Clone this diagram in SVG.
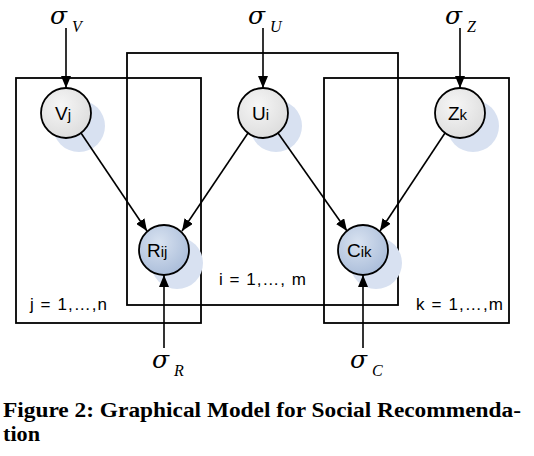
<svg xmlns="http://www.w3.org/2000/svg" width="534" height="456" viewBox="0 0 534 456">
<defs>
  <marker id="ah" viewBox="0 0 12 10" refX="12" refY="5" markerWidth="12" markerHeight="10" markerUnits="userSpaceOnUse" orient="auto">
    <path d="M0,0 L12,5 L0,10 Z" fill="#000"/>
  </marker>
  <radialGradient id="gGray" cx="0.4" cy="0.35" r="0.7">
    <stop offset="0" stop-color="#f6f6f6"/>
    <stop offset="1" stop-color="#dcdcdc"/>
  </radialGradient>
  <radialGradient id="gBlue" cx="0.4" cy="0.35" r="0.7">
    <stop offset="0" stop-color="#d8e2f0"/>
    <stop offset="1" stop-color="#a9bcd9"/>
  </radialGradient>
</defs>
<style>
  .box { fill: none; stroke: #000; stroke-width: 1.8; }
  .shadow { fill: #d8e1f1; stroke: none; }
  .node { stroke: #000; stroke-width: 1.8; }
  .gray { fill: url(#gGray); }
  .blue { fill: url(#gBlue); }
  .edge { stroke: #000; stroke-width: 1.6; fill: none; marker-end: url(#ah); }
  .nl { font-family: "Liberation Sans", Arial, sans-serif; font-size: 19px; fill: #000; }
  .sub { font-size: 15px; }
  .lab { font-family: "Liberation Sans", Arial, sans-serif; font-size: 17px; fill: #000; }
  .sig { font-family: "DejaVu Serif", "Liberation Serif", serif; font-style: italic; font-size: 25px; fill: #000; }
  .ss { font-family: "Liberation Serif", "Times New Roman", serif; font-style: italic; font-size: 16px; fill: #000; }
  .cap { font-family: "Liberation Serif", "Times New Roman", serif; font-weight: bold; font-size: 20px; fill: #000; }
</style>

<g id="plates">
  <rect id="plate-j" class="box" x="16" y="78" width="185" height="245"/>
  <rect id="plate-i" class="box" x="127" y="53" width="271" height="252"/>
  <rect id="plate-k" class="box" x="324" y="78" width="185" height="245"/>
  <text class="lab" x="30" y="310" textLength="77" lengthAdjust="spacing">j = 1,…,n</text>
  <text class="lab" x="219" y="285" textLength="87" lengthAdjust="spacing">i = 1,…, m</text>
  <text class="lab" x="416" y="310" textLength="87" lengthAdjust="spacing">k = 1,…,m</text>
</g>

<g id="node-Vj">
  <circle class="shadow" cx="79" cy="126" r="26"/>
  <circle class="node gray" cx="66" cy="113" r="25"/>
  <text class="nl" x="55" y="120">V<tspan class="sub">j</tspan></text>
</g>
<g id="node-Ui">
  <circle class="shadow" cx="276" cy="126" r="26"/>
  <circle class="node gray" cx="263" cy="113" r="25"/>
  <text class="nl" x="252" y="120">U<tspan class="sub">i</tspan></text>
</g>
<g id="node-Zk">
  <circle class="shadow" cx="473" cy="126" r="26"/>
  <circle class="node gray" cx="460" cy="113" r="25"/>
  <text class="nl" x="448" y="120">Z<tspan class="sub">k</tspan></text>
</g>
<g id="node-Rij">
  <circle class="shadow" cx="177" cy="263" r="26"/>
  <circle class="node blue" cx="164" cy="250" r="25"/>
  <text class="nl" x="147" y="257">R<tspan class="sub">ij</tspan></text>
</g>
<g id="node-Cik">
  <circle class="shadow" cx="376" cy="263" r="26"/>
  <circle class="node blue" cx="363" cy="250" r="25"/>
  <text class="nl" x="347" y="257">C<tspan class="sub">ik</tspan></text>
</g>

<g id="param-sV"><text class="sig" x="50" y="24">σ</text><text class="ss" x="72" y="32">V</text></g>
<g id="param-sU"><text class="sig" x="248" y="24">σ</text><text class="ss" x="270" y="32">U</text></g>
<g id="param-sZ"><text class="sig" x="445" y="24">σ</text><text class="ss" x="467" y="32">Z</text></g>
<g id="param-sR"><text class="sig" x="152" y="368">σ</text><text class="ss" x="174" y="376">R</text></g>
<g id="param-sC"><text class="sig" x="350" y="368">σ</text><text class="ss" x="372" y="376">C</text></g>

<g id="connectors">
  <line class="edge" x1="66" y1="28" x2="66" y2="88"/>
  <line class="edge" x1="263" y1="28" x2="263" y2="88"/>
  <line class="edge" x1="460" y1="28" x2="460" y2="88"/>
  <line class="edge" x1="164" y1="348" x2="164" y2="275"/>
  <line class="edge" x1="363" y1="348" x2="363" y2="275"/>
  <line class="edge" x1="81" y1="133" x2="147" y2="231"/>
  <line class="edge" x1="248" y1="133" x2="182" y2="231"/>
  <line class="edge" x1="278" y1="133" x2="347" y2="231"/>
  <line class="edge" x1="445" y1="133" x2="380" y2="231"/>
</g>

<g id="caption">
  <text class="cap" x="3" y="417" textLength="518" lengthAdjust="spacingAndGlyphs">Figure 2: Graphical Model for Social Recommenda-</text>
  <text class="cap" x="3" y="441" textLength="37" lengthAdjust="spacingAndGlyphs">tion</text>
</g>
</svg>
